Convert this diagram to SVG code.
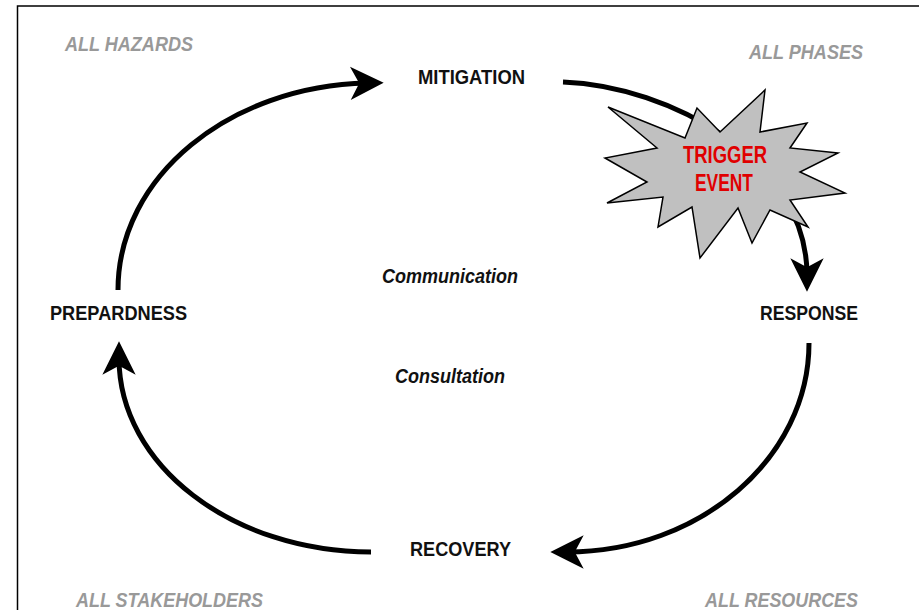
<svg xmlns="http://www.w3.org/2000/svg" width="919" height="610" viewBox="0 0 919 610">
  <style>
    .phase { font-family: "Liberation Sans", Arial, sans-serif; font-weight: bold; font-size: 21px; fill: #111; }
    .mid { font-family: "Liberation Sans", Arial, sans-serif; font-weight: bold; font-style: italic; font-size: 20px; fill: #111; }
    .corner { font-family: "Liberation Sans", Arial, sans-serif; font-weight: bold; font-style: italic; font-size: 21px; fill: #999; }
    .trig { font-family: "Liberation Sans", Arial, sans-serif; font-weight: bold; font-size: 23px; fill: #e00000; }
    .arc { fill: none; stroke: #000; stroke-width: 5; marker-end: url(#ah); }
  </style>
  <defs>
    <marker id="ah" markerUnits="userSpaceOnUse" markerWidth="40" markerHeight="40" refX="15" refY="0" viewBox="-2 -18 36 36" orient="auto" overflow="visible">
      <path d="M30,0 L0,-15 L8,0 L0,15 Z" fill="#000"/>
    </marker>
  </defs>
  <rect width="919" height="610" fill="#fff"/>
  <path d="M17.5,610 V6 H919" fill="none" stroke="#000" stroke-width="1.5"/>

  <g id="connectors">
    <path class="arc" d="M118,290 C118,176 230,86 367,83"/>
    <path class="arc" d="M563,82 C670,86 807,160 807,275"/>
    <path class="arc" d="M809,343 C809,458 700,552 567,552"/>
    <path class="arc" d="M371,552 C232,552 119,465 119,358"/>
  </g>

  <g id="trigger-event">
    <polygon points="765,90 760,132 807,123 790,148 838,153 800,172 845,193 790,200 808,227 770,210 752,243 738,208 700,258 692,207 658,227 663,197 607,203 647,182 605,158 657,148 608,107 685,138 697,108 720,132" fill="#c0c0c0" stroke="#000" stroke-width="1.5" stroke-linejoin="miter"/>
    <text class="trig" x="683" y="163" textLength="84" lengthAdjust="spacingAndGlyphs">TRIGGER</text>
    <text class="trig" x="695" y="191" textLength="58" lengthAdjust="spacingAndGlyphs">EVENT</text>
  </g>

  <g id="mitigation">
    <text class="phase" x="418" y="84" textLength="107" lengthAdjust="spacingAndGlyphs">MITIGATION</text>
  </g>
  <g id="response">
    <text class="phase" x="760" y="320" textLength="98" lengthAdjust="spacingAndGlyphs">RESPONSE</text>
  </g>
  <g id="recovery">
    <text class="phase" x="410" y="556" textLength="101" lengthAdjust="spacingAndGlyphs">RECOVERY</text>
  </g>
  <g id="prepardness">
    <text class="phase" x="50" y="320" textLength="137" lengthAdjust="spacingAndGlyphs">PREPARDNESS</text>
  </g>

  <g id="center-labels">
    <text class="mid" x="382" y="283" textLength="136" lengthAdjust="spacingAndGlyphs">Communication</text>
    <text class="mid" x="395" y="383" textLength="110" lengthAdjust="spacingAndGlyphs">Consultation</text>
  </g>

  <g id="corner-labels">
    <text class="corner" x="65" y="51" textLength="128" lengthAdjust="spacingAndGlyphs">ALL HAZARDS</text>
    <text class="corner" x="749" y="59" textLength="114" lengthAdjust="spacingAndGlyphs">ALL PHASES</text>
    <text class="corner" x="76" y="607" textLength="187" lengthAdjust="spacingAndGlyphs">ALL STAKEHOLDERS</text>
    <text class="corner" x="705" y="607" textLength="153" lengthAdjust="spacingAndGlyphs">ALL RESOURCES</text>
  </g>
</svg>
